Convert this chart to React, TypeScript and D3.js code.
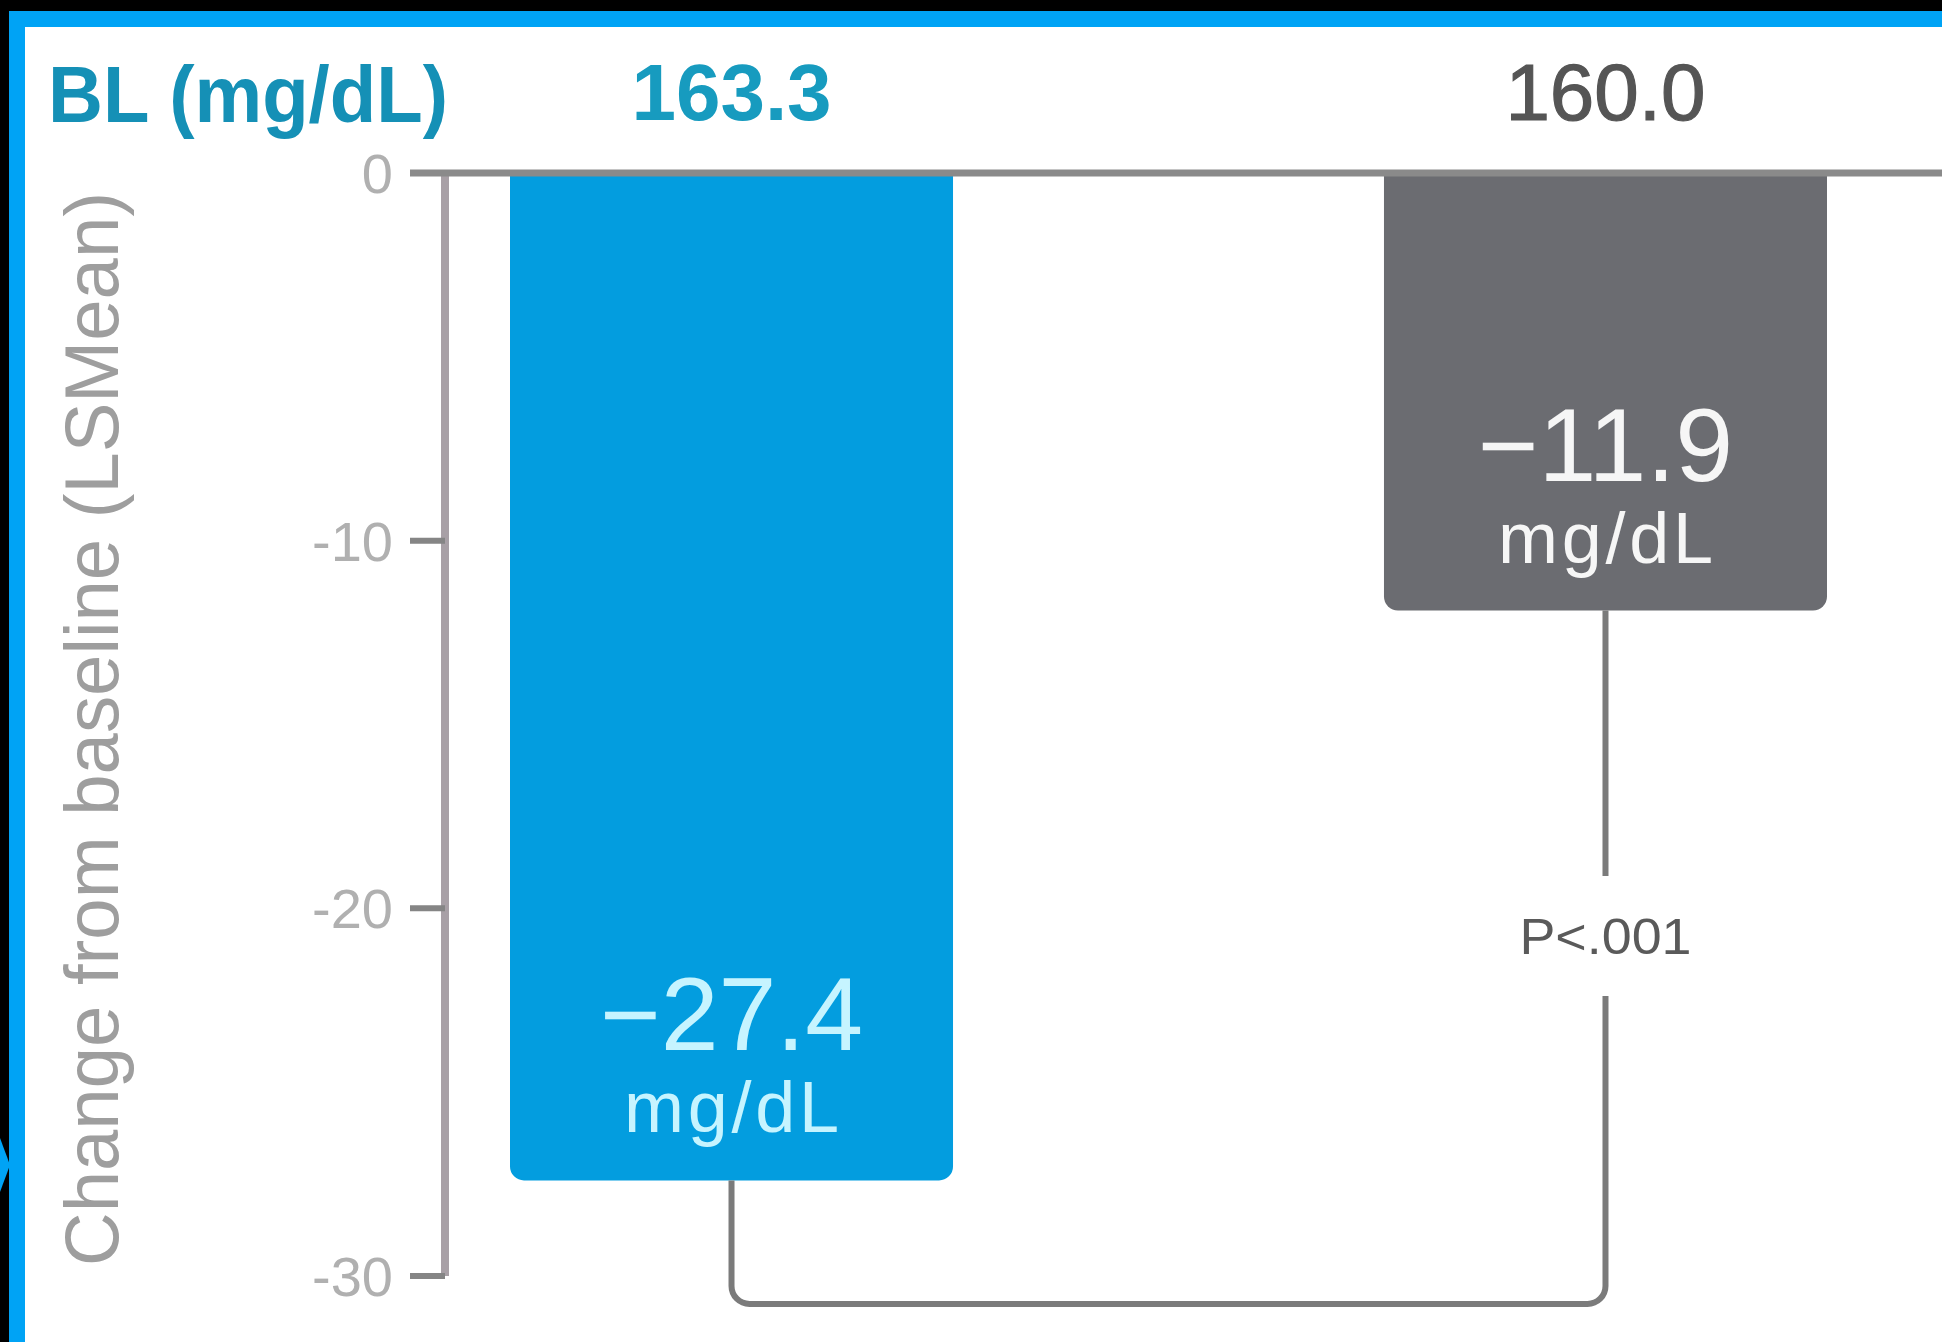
import React from "react";
import * as d3 from "d3";

// Treatment groups, baseline levels and LS-mean change from baseline
const groups = ["active", "control"];
const baselineValues = [163.3, 160.0];
const changeValues = [-27.4, -11.9];
const yTicks = [0, -10, -20, -30];
const unitLabel = "mg/dL";
const baselineHeader = "BL (mg/dL)";
const yAxisTitle = "Change from baseline (LSMean)";
const pValueLabel = "P<.001";

const W = 1942;
const H = 1342;
const FONT = "'Liberation Sans', Arial, Helvetica, sans-serif";

const barFill = ["#039ddf", "#6b6c71"];
const valueFill = ["#c6f4ff", "#f6f6f6"];
const baselineFill = ["#179bbf", "#555555"];
const baselineWeight = [700, 400];
const baselineStroke = [0, 1.2];

function barPath(x0: number, w: number, y0: number, y1: number, r: number) {
  const p = d3.path();
  p.moveTo(x0, y0);
  p.lineTo(x0 + w, y0);
  p.lineTo(x0 + w, y1 - r);
  p.arcTo(x0 + w, y1, x0 + w - r, y1, r);
  p.lineTo(x0 + r, y1);
  p.arcTo(x0, y1, x0, y1 - r, r);
  p.closePath();
  return p.toString();
}

export default function App() {
  const x = d3
    .scaleBand<string>()
    .domain(groups)
    .range([510, 1827])
    .paddingInner(0.4931);
  const y = d3.scaleLinear().domain([0, -30]).range([173, 1276]);

  const axisX = 445;
  const tickX0 = 410;
  const bw = x.bandwidth();
  const cx = groups.map((g) => (x(g) as number) + bw / 2);

  // significance bracket joining the two bar ends
  const bracketBottom = 1304;
  const br = 18;
  const pY = 936;
  const gap = 60;
  const leftBar = y(changeValues[0]);
  const rightBar = y(changeValues[1]);
  const bracketA = d3.path();
  bracketA.moveTo(cx[0], leftBar);
  bracketA.lineTo(cx[0], bracketBottom - br);
  bracketA.arcTo(cx[0], bracketBottom, cx[0] + br, bracketBottom, br);
  bracketA.lineTo(cx[1] - br, bracketBottom);
  bracketA.arcTo(cx[1], bracketBottom, cx[1], bracketBottom - br, br);
  bracketA.lineTo(cx[1], pY + gap);
  const bracketB = d3.path();
  bracketB.moveTo(cx[1], rightBar);
  bracketB.lineTo(cx[1], pY - gap);

  const fmt = (v: number) => (v === 0 ? "0" : `-${Math.abs(v)}`);

  return (
    <svg
      width={W}
      height={H}
      viewBox={`0 0 ${W} ${H}`}
      style={{ position: "absolute", left: 0, top: 0, display: "block" }}
      fontFamily={FONT}
    >
      {/* frame */}
      <rect x={0} y={0} width={W} height={H} fill="#000" />
      <rect x={9} y={11} width={W - 9} height={H - 11} fill="#00a3f5" />
      <polygon points={`0,1138 0,1192 10,1165`} fill="#00a3f5" />
      <rect x={25} y={27} width={W - 25} height={H - 27} fill="#fff" />

      {/* baseline header row */}
      <text
        x={48}
        y={122}
        fontSize={80}
        fontWeight={700}
        fill="#1590b6"
        textLength={400}
        lengthAdjust="spacingAndGlyphs"
      >
        {baselineHeader}
      </text>
      {groups.map((g, i) => (
        <text
          key={`bl-${g}`}
          x={cx[i]}
          y={120}
          fontSize={80}
          fontWeight={baselineWeight[i]}
          fill={baselineFill[i]}
          stroke={baselineFill[i]}
          strokeWidth={baselineStroke[i]}
          textAnchor="middle"
        >
          {baselineValues[i].toFixed(1)}
        </text>
      ))}

      {/* y axis title */}
      <text
        transform={`translate(118, 729) rotate(-90)`}
        fontSize={76}
        fill="#9e9e9e"
        textAnchor="middle"
        textLength={1074}
        lengthAdjust="spacingAndGlyphs"
      >
        {yAxisTitle}
      </text>

      {/* bars */}
      {groups.map((g, i) => (
        <path
          key={`bar-${g}`}
          d={barPath(x(g) as number, bw, y(0), y(changeValues[i]), 14)}
          fill={barFill[i]}
        />
      ))}

      {/* y axis */}
      <line
        x1={axisX}
        x2={axisX}
        y1={y(0)}
        y2={y(yTicks[yTicks.length - 1])}
        stroke="#a8a0a6"
        strokeWidth={8}
      />
      {yTicks.map((t) => (
        <g key={`tick-${t}`}>
          <line
            x1={tickX0}
            x2={axisX}
            y1={y(t)}
            y2={y(t)}
            stroke="#858585"
            strokeWidth={6}
          />
          <text
            x={393}
            y={y(t)}
            dy="0.36em"
            fontSize={56}
            fill="#b0b0b0"
            textAnchor="end"
          >
            {fmt(t)}
          </text>
        </g>
      ))}

      {/* zero line */}
      <line
        x1={tickX0}
        x2={W}
        y1={y(0)}
        y2={y(0)}
        stroke="#8a8a8a"
        strokeWidth={7}
      />

      {/* value labels */}
      {groups.map((g, i) => {
        const yb = y(changeValues[i]);
        return (
          <g key={`lab-${g}`} fill={valueFill[i]} textAnchor="middle">
            <text x={cx[i]} y={yb - 130} fontSize={104}>
              {`\u2212${Math.abs(changeValues[i]).toFixed(1)}`}
            </text>
            <text
              x={cx[i]}
              y={yb - 48}
              fontSize={72}
              textLength={215}
              lengthAdjust="spacing"
            >
              {unitLabel}
            </text>
          </g>
        );
      })}

      {/* bracket + p value */}
      <path
        d={bracketA.toString()}
        fill="none"
        stroke="#7b7b7b"
        strokeWidth={6}
      />
      <path
        d={bracketB.toString()}
        fill="none"
        stroke="#7b7b7b"
        strokeWidth={6}
      />
      <text
        x={cx[1]}
        y={pY}
        dy="0.36em"
        fontSize={50}
        fill="#5a5a5a"
        textAnchor="middle"
        textLength={172}
        lengthAdjust="spacingAndGlyphs"
      >
        {pValueLabel}
      </text>
    </svg>
  );
}
